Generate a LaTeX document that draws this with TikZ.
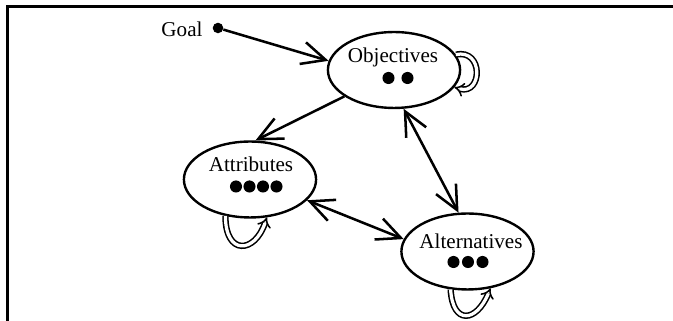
\documentclass[tikz,border=0pt]{standalone}
\usepackage{fontspec}
\setmainfont{Liberation Serif}
\usetikzlibrary{arrows.meta, positioning, shapes.geometric}
\tikzset{
    stage/.style={
        ellipse,
        draw=black,
        line width=1.7pt,
        minimum width=94pt,
        minimum height=54pt,
        inner sep=0pt
    },
    lbl/.style={
        font=\fontsize{15}{18}\selectfont,
        inner sep=0pt,
        anchor=base
    },
    link/.style={
        draw=black,
        line width=1.8pt
    },
    selfloop/.style={
        draw=black,
        double,
        double distance=2.3pt,
        line width=1.1pt,
        -Implies
    },
    goalpin/.style={
        circle,
        fill=black,
        inner sep=0pt,
        minimum size=7.5pt
    }
}
\begin{document}
\begin{tikzpicture}[x=0.025cm, y=0.025cm, >={Straight Barb[length=17pt, width=16pt]}]
\useasboundingbox (0,0) rectangle (673,321);

% Frame
\draw[line width=1.7pt] (7.5,0) |- (673,314.3);

% Goal
\node[lbl] (goal) at (182,284) {Goal};
\node[goalpin] (goaldot) at (218,293) {};

% Ellipses
\node[stage] (obj) at (394,251) {};
\node[stage] (attr) at (250,141.5) {};
\node[stage] (alt) at (467.5,69.5) {};

\node[lbl] (objtxt) at (393,258.3) {Objectives};
\node[lbl] (attrtxt) at (251,149.3) {Attributes};
\node[lbl] (alttxt) at (471,72) {Alternatives};

% Dots
\foreach \x in {388.5,407.5} \fill (\x,243) circle (4.3pt);
\foreach \x in {236,249.5,263,276.5} \fill (\x,134.5) circle (4.3pt);
\foreach \x in {453.5,468,482.5} \fill (\x,59) circle (4.3pt);

% Links
\draw[link, ->] (goaldot) -- (obj.172);
\draw[link, ->] (obj.208) -- (attr.82);
\draw[link, <->] (obj.284) -- (alt.103);
\draw[link, <->] (attr.340) -- (alt.169);

% Self loops
\draw[selfloop] (obj.14) .. controls +(28,6) and +(28,-8) .. (obj.-16);
\draw[selfloop] (attr.236) .. controls +(0,-40) and +(-12,-36) .. (attr.294);
\draw[selfloop] (alt.246) .. controls +(2,-36) and +(-14,-34) .. (alt.302);

\end{tikzpicture}
\end{document}
